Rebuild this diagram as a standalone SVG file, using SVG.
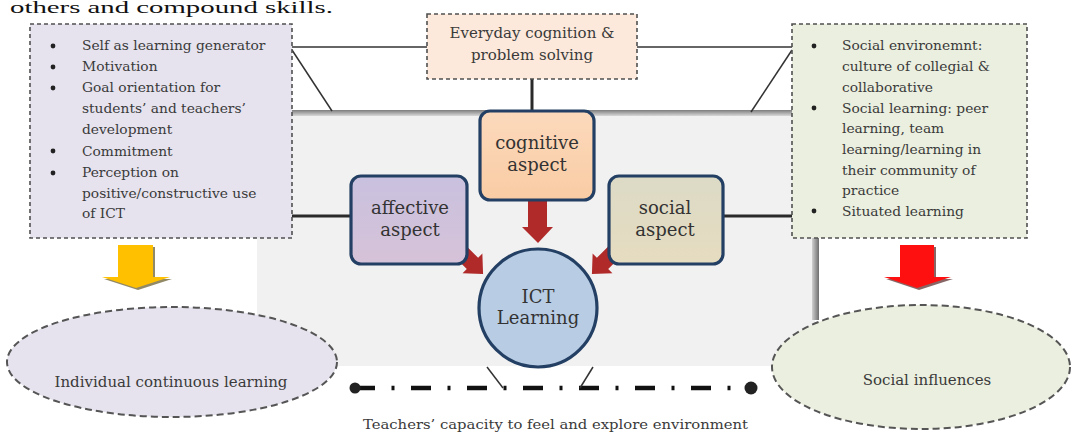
<svg xmlns="http://www.w3.org/2000/svg" width="1072" height="434" viewBox="0 0 1072 434">
<style>
text{font-family:"DejaVu Serif","Liberation Serif",serif;fill:#3a3a3a}
.b{font-size:13.8px}
.lab{font-size:18px;text-anchor:middle;fill:#333}
.mid{font-size:15px;text-anchor:middle}
.dbox{stroke:#505050;stroke-width:1.6;stroke-dasharray:4 3}
.dell{stroke:#555;stroke-width:2;stroke-dasharray:7 4}
.rbox{stroke:#233f63;stroke-width:3.2}
.ln{stroke:#333;stroke-width:1.5;fill:none}
.thk{stroke:#2a2a2a;stroke-width:3;fill:none}
.red{fill:#b02a2a}
.dot{fill:#222}
</style>
<defs>
<linearGradient id="gCog" x1="0" y1="0" x2="0" y2="1"><stop offset="0" stop-color="#fcd9bc"/><stop offset="1" stop-color="#f9cca4"/></linearGradient>
<linearGradient id="gAff" x1="0" y1="0" x2="0" y2="1"><stop offset="0" stop-color="#c9c1df"/><stop offset="1" stop-color="#d6c2d8"/></linearGradient>
<linearGradient id="gSoc" x1="0" y1="0" x2="0" y2="1"><stop offset="0" stop-color="#dcdac6"/><stop offset="1" stop-color="#e6dcc0"/></linearGradient>
<linearGradient id="gTop" x1="0" y1="0" x2="0" y2="1"><stop offset="0" stop-color="#7d7d7d"/><stop offset="1" stop-color="#d8d8d8"/></linearGradient>
<linearGradient id="gRight" x1="0" y1="0" x2="1" y2="0"><stop offset="0" stop-color="#d0d0d0"/><stop offset="1" stop-color="#6e6e6e"/></linearGradient>
<path id="arr" d="M-8,-26 H8 V-5 H14 L0,10 L-14,-5 H-8 Z"/>
</defs>

<rect width="1072" height="434" fill="#ffffff"/>
<text x="10" y="13" style="font-family:'Liberation Serif',serif;fill:#111;font-size:17px" textLength="323" lengthAdjust="spacingAndGlyphs">others and compound skills.</text>

<g id="background-panel">
<rect x="257" y="113" width="558" height="253" fill="#f1f1f1"/>
<rect x="257" y="110" width="558" height="6" fill="url(#gTop)"/>
<rect x="812" y="113" width="7" height="207" fill="url(#gRight)"/>
</g>

<g id="connectors">
<line class="ln" x1="292" y1="47" x2="427" y2="47"/>
<line class="ln" x1="637" y1="47" x2="792" y2="47"/>
<line class="ln" x1="292" y1="50" x2="332" y2="111"/>
<line class="ln" x1="792" y1="50" x2="751" y2="112"/>
<line class="thk" x1="532" y1="79" x2="532" y2="111"/>
<line class="thk" x1="292" y1="216" x2="351" y2="216"/>
<line class="thk" x1="723" y1="216" x2="792" y2="216"/>
<path class="red" d="M528,200 H547 V227 H553 L538,243 L522,227 H528 Z"/>
<use href="#arr" class="red" transform="translate(476,267) rotate(-45)"/>
<use href="#arr" class="red" transform="translate(599,267) rotate(45)"/>
<path d="M120,247 H155 V279 H172 L138,290 L104,279 H120 Z" fill="#4a3b00" opacity="0.6"/>
<path d="M118,245 H153 V277 H170 L136,288 L102,277 H118 Z" fill="#ffc000"/>
<path d="M902,247 H936 V279 H953 L919,290 L886,279 H902 Z" fill="#3a0000" opacity="0.6"/>
<path d="M900,245 H934 V277 H951 L917,288 L884,277 H900 Z" fill="#ff1010"/>
<line x1="355" y1="388" x2="748" y2="388" stroke="#111" stroke-width="4.5" stroke-dasharray="20 16.5 3 16.5"/>
<circle class="dot" cx="355" cy="388" r="5.5"/>
<circle class="dot" cx="751" cy="388" r="6.5"/>
<line class="ln" x1="487" y1="367" x2="503" y2="388"/>
<line class="ln" x1="593" y1="367" x2="580" y2="388"/>
</g>

<g id="node-left-box">
<rect class="dbox" x="30" y="24" width="262" height="214" fill="#e6e3ee"/>
<g class="b">
<circle class="dot" cx="53" cy="46" r="2.4"/><text x="82" y="50">Self as learning generator</text>
<circle class="dot" cx="53" cy="67" r="2.4"/><text x="82" y="71">Motivation</text>
<circle class="dot" cx="53" cy="88" r="2.4"/><text x="82" y="92">Goal orientation for</text>
<text x="82" y="113">students’ and teachers’</text>
<text x="82" y="134">development</text>
<circle class="dot" cx="53" cy="151" r="2.4"/><text x="82" y="156">Commitment</text>
<circle class="dot" cx="53" cy="173" r="2.4"/><text x="82" y="177">Perception on</text>
<text x="82" y="198">positive/constructive use</text>
<text x="82" y="218">of ICT</text>
</g>
</g>

<g id="node-top-box">
<rect class="dbox" x="427" y="14" width="210" height="65" fill="#fce9db"/>
<text class="mid" x="532" y="38">Everyday cognition &amp;</text>
<text class="mid" x="532" y="60">problem solving</text>
</g>

<g id="node-right-box">
<rect class="dbox" x="792" y="24" width="235" height="214" fill="#ebefdf"/>
<g class="b">
<circle class="dot" cx="814" cy="46" r="2.4"/><text x="842" y="50">Social environemnt:</text>
<text x="842" y="71">culture of collegial &amp;</text>
<text x="842" y="92">collaborative</text>
<circle class="dot" cx="814" cy="108" r="2.4"/><text x="842" y="113">Social learning: peer</text>
<text x="842" y="133">learning, team</text>
<text x="842" y="154">learning/learning in</text>
<text x="842" y="175">their community of</text>
<text x="842" y="195">practice</text>
<circle class="dot" cx="814" cy="211" r="2.4"/><text x="842" y="216">Situated learning</text>
</g>
</g>

<g id="node-cognitive">
<rect class="rbox" x="480" y="111" width="114" height="89" rx="10" fill="url(#gCog)"/>
<text class="lab" x="537" y="149">cognitive</text>
<text class="lab" x="537" y="171">aspect</text>
</g>

<g id="node-affective">
<rect class="rbox" x="351" y="176" width="116" height="88" rx="10" fill="url(#gAff)"/>
<text class="lab" x="410" y="214">affective</text>
<text class="lab" x="410" y="236">aspect</text>
</g>

<g id="node-social">
<rect class="rbox" x="609" y="176" width="114" height="88" rx="10" fill="url(#gSoc)"/>
<text class="lab" x="665" y="214">social</text>
<text class="lab" x="665" y="236">aspect</text>
</g>

<g id="node-ict">
<circle class="rbox" cx="538" cy="308" r="59" fill="#b8cce4"/>
<text class="lab" x="538" y="303">ICT</text>
<text class="lab" x="538" y="324">Learning</text>
</g>

<g id="node-individual">
<ellipse class="dell" cx="172" cy="362" rx="165" ry="55" fill="#e6e3ee"/>
<text class="mid" x="171" y="387">Individual continuous learning</text>
</g>

<g id="node-social-influences">
<ellipse class="dell" cx="921" cy="367" rx="149" ry="62" fill="#ebefdf"/>
<text class="mid" x="927" y="385">Social influences</text>
</g>

<text x="363" y="429" style="font-size:13.5px" textLength="385" lengthAdjust="spacingAndGlyphs">Teachers’ capacity to feel and explore environment</text>
</svg>
